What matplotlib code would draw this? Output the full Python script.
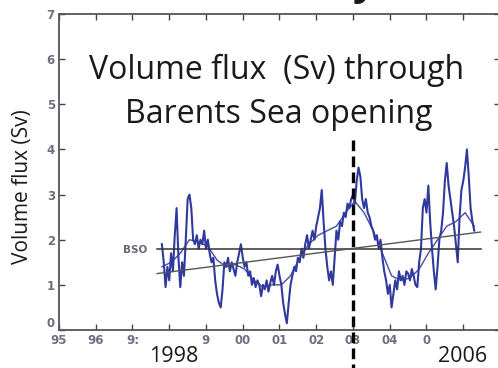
import numpy as np
import matplotlib
matplotlib.use("Agg")
import matplotlib.pyplot as plt

# ---- data ----
start_year = 1997.80
step = 0.05
flux_raw = [
    1.9, 1.5, 0.95, 1.4, 1.1, 1.7, 1.3, 2.1, 2.7, 1.6,
    0.95, 1.5, 1.2, 2.0, 2.9, 3.0, 2.7, 2.0, 1.9, 2.1,
    1.8, 2.0, 1.9, 2.2, 1.8, 2.0, 1.7, 1.5, 1.6, 1.1,
    0.8, 0.6, 0.5, 0.9, 1.5, 1.4, 1.6, 1.3, 1.5, 1.35,
    1.2, 1.5, 1.7, 1.9, 1.6, 1.4, 1.5, 1.2, 1.3, 1.0,
    1.15, 0.95, 1.1, 1.0, 0.75, 1.0, 0.9, 1.1, 0.85, 1.05,
    1.2, 1.0, 1.3, 1.45, 1.2, 1.0, 0.6, 0.35, 0.15, 0.6,
    1.0, 1.2, 1.4, 1.3, 1.6, 1.5, 1.8, 1.6, 1.9, 2.1,
    1.8, 2.0, 2.2, 2.0, 2.3, 2.5, 2.7, 3.1, 2.4, 1.8,
    1.4, 1.1, 1.3, 1.0, 1.6, 2.2, 2.0, 2.4, 2.3, 2.6,
    2.5, 2.8, 2.7, 2.9, 3.0, 2.8, 3.3, 3.6, 3.4, 2.9,
    2.7, 2.9, 2.6, 2.5, 2.3, 2.2, 2.0, 2.1, 1.8, 2.0,
    1.6, 1.3, 1.1, 0.8, 1.0, 0.5, 0.8, 1.1, 0.9, 1.3,
    1.1, 1.2, 1.0, 1.3, 1.25, 1.1, 1.35, 1.2, 1.0, 0.95,
    1.5, 1.8, 2.7, 2.9, 2.6, 3.2, 2.4, 1.8, 1.3, 0.9,
    1.4, 2.0, 2.2, 2.6, 3.3, 3.7, 3.2, 2.9, 2.6, 2.3,
    1.9, 1.5, 2.5, 3.1, 3.3, 3.6, 4.0, 3.4, 2.7, 2.4,
    2.2,
]
smooth_years = [1997.80, 1998.05, 1998.30, 1998.55, 1998.80, 1999.05, 1999.30,
                1999.55, 1999.80, 2000.05, 2000.30, 2000.55, 2000.80, 2001.05,
                2001.30, 2001.55, 2001.80, 2002.05, 2002.30, 2002.55, 2002.80,
                2003.05, 2003.30, 2003.55, 2003.80, 2004.05, 2004.30, 2004.55,
                2004.80, 2005.05, 2005.30, 2005.55, 2005.80, 2006.05, 2006.30]
flux_smooth = [1.4, 1.5, 1.7, 2.0, 1.95, 1.85, 1.55,
               1.4, 1.45, 1.35, 1.1, 0.95, 1.0, 1.0,
               1.2, 1.6, 1.9, 2.1, 2.2, 2.3, 2.6,
               2.85, 2.6, 2.2, 1.7, 1.2, 1.1, 1.15,
               1.35, 1.7, 2.0, 2.3, 2.4, 2.6, 2.3]
bso_mean = 1.8
bso_span = [1997.67, 2006.47]
trend_years = [1997.67, 2006.47]
trend_vals = [1.25, 2.17]
marker_year = 2003.0
tick_years = list(range(1995, 2007))
tick_labels = ["95", "96", "9:", "", "9", "00", "01", "02", "03", "04", "0", ""]

years_raw = start_year + step * np.arange(len(flux_raw))

# ---- figure ----
W, H = 498, 368
fig = plt.figure(figsize=(W / 100, H / 100), dpi=100)
ax = fig.add_axes([59 / W, (H - 330) / H, (500 - 59) / W, (330 - 14) / H])

blue = "#2f3a9c"
ax.plot(smooth_years, flux_smooth, color=blue, lw=1.0, alpha=0.9, zorder=3)
ax.plot(years_raw, flux_raw, color=blue, lw=1.5, zorder=3)
ax.plot(bso_span, [bso_mean, bso_mean], color="#333333", lw=1.1, zorder=4)
ax.plot(trend_years, trend_vals, color="#555555", lw=1.0, zorder=4)
ax.text(1997.4, 1.78, "BSO", ha="right", va="center", fontsize=7.5,
        color="#666677", fontweight="bold", family="DejaVu Sans")

ax.plot([marker_year, marker_year], [4.2, -0.85], color="black", lw=2.4,
        ls=(0, (3.2, 1.6)), clip_on=False, zorder=6)

ax.set_xlim(1995, 2007)
ax.set_ylim(0, 7)
ax.set_xticks(tick_years)
ax.set_xticklabels(tick_labels)
ax.set_yticks(range(0, 8))
ax.tick_params(direction="in", length=4, width=1.0, color="#444444",
               labelsize=8.5, labelcolor="#6e6e80", top=True, right=True, pad=3)
for lab in ax.get_xticklabels() + ax.get_yticklabels():
    lab.set_fontweight("bold")
ax.get_yticklabels()[0].set_va("bottom")
for sp in ax.spines.values():
    sp.set_color("#555555")
    sp.set_linewidth(1.3)

ax.set_ylabel("Volume flux (Sv)", family="Open Sans", fontsize=15,
              color="#1a1a1a")
ax.yaxis.set_label_coords(-0.058, 0.455)

# overlay texts
fig.text(277 / W, 1 - 79 / H, "Volume flux  (Sv) through", family="Open Sans",
         fontsize=23, color="#1a1a1a", ha="center", va="baseline")
fig.text(279 / W, 1 - 123 / H, "Barents Sea opening", family="Open Sans",
         fontsize=23, color="#1a1a1a", ha="center", va="baseline")
fig.text(174 / W, 1 - 362 / H, "1998", family="Open Sans", fontsize=15.5,
         color="#1a1a1a", ha="center", va="baseline")
fig.text(463 / W, 1 - 362 / H, "2006", family="Open Sans", fontsize=15.5,
         color="#1a1a1a", ha="center", va="baseline")
fig.text(352 / W, 1 + 6 / H, "y", family="Open Sans", fontsize=30,
         fontweight="bold", color="#1a1a1a", ha="left", va="baseline")

fig.savefig("out.png", dpi=100, facecolor="white")
